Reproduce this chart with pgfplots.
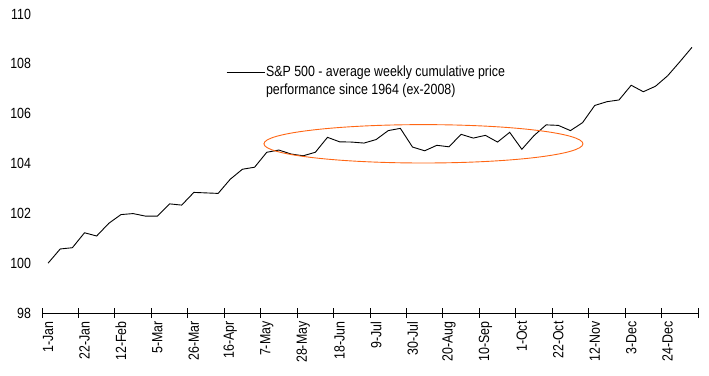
\documentclass[border=0pt]{standalone}
\usepackage{fontspec}
\setmainfont{Liberation Sans}[FakeStretch=0.84]
\usepackage{pgfplots}
\pgfplotsset{compat=1.18}
\definecolor{ellip}{RGB}{255,102,20}
\begin{document}
\begin{tikzpicture}
\path[use as bounding box] (-42bp,-63bp) rectangle (667bp,313bp);
\begin{axis}[
  at={(0,0)}, anchor=south west,
  scale only axis, width=656bp, height=299bp,
  xmin=-0.5, xmax=53.5, ymin=98, ymax=110,
  axis x line*=bottom, axis y line*=left,
  x axis line style={-, black, line width=0.9bp},
  y axis line style={draw=none},
  ytick={98,100,...,110},
  ytick style={draw=none},
  xtick={0,3,...,51},
  xticklabels={1-Jan,22-Jan,12-Feb,5-Mar,26-Mar,16-Apr,7-May,28-May,18-Jun,9-Jul,30-Jul,20-Aug,10-Sep,1-Oct,22-Oct,12-Nov,3-Dec,24-Dec},
  major tick length=0pt,
  extra x ticks={-0.5,2.5,...,53.5},
  extra x tick labels={},
  extra x tick style={major tick length=9bp, tick align=center, tick style={black, line width=0.9bp}},
  /pgf/number format/assume math mode=true,
  tick label style={font=\fontsize{14.8}{17}\selectfont},
  xticklabel style={rotate=90, anchor=east},
  xticklabel shift=5bp,
  yticklabel shift=7.5bp,
  legend cell align=left,
  legend style={draw=none, fill=none, at={(0.2805,0.83)}, anchor=north west, inner sep=0pt,
    font=\fontsize{14.8}{17}\selectfont, row sep=3.5bp, nodes={inner sep=1bp}},
  legend image code/.code={\draw[#1] (0bp,0bp) -- (38bp,0bp);},
]
\addplot[black, line width=0.9bp] table {
x y
0 100.00
1 100.57
2 100.62
3 101.22
4 101.09
5 101.60
6 101.95
7 101.99
8 101.89
9 101.89
10 102.38
11 102.33
12 102.84
13 102.82
14 102.80
15 103.37
16 103.77
17 103.85
18 104.45
19 104.54
20 104.38
21 104.31
22 104.45
23 105.05
24 104.87
25 104.86
26 104.82
27 104.96
28 105.32
29 105.41
30 104.66
31 104.51
32 104.73
33 104.67
34 105.17
35 105.02
36 105.13
37 104.86
38 105.25
39 104.57
40 105.12
41 105.55
42 105.53
43 105.32
44 105.64
45 106.33
46 106.48
47 106.55
48 107.14
49 106.88
50 107.10
51 107.52
52 108.08
53 108.66
};
\addlegendentry{S\&P 500 - average weekly cumulative price}
\addlegendimage{empty legend}
\addlegendentry{performance since 1964 (ex-2008)}
\draw[ellip, line width=0.9bp] (axis cs:30.9,104.79) ellipse [x radius=13.13, y radius=0.77];
\end{axis}
\end{tikzpicture}
\end{document}
